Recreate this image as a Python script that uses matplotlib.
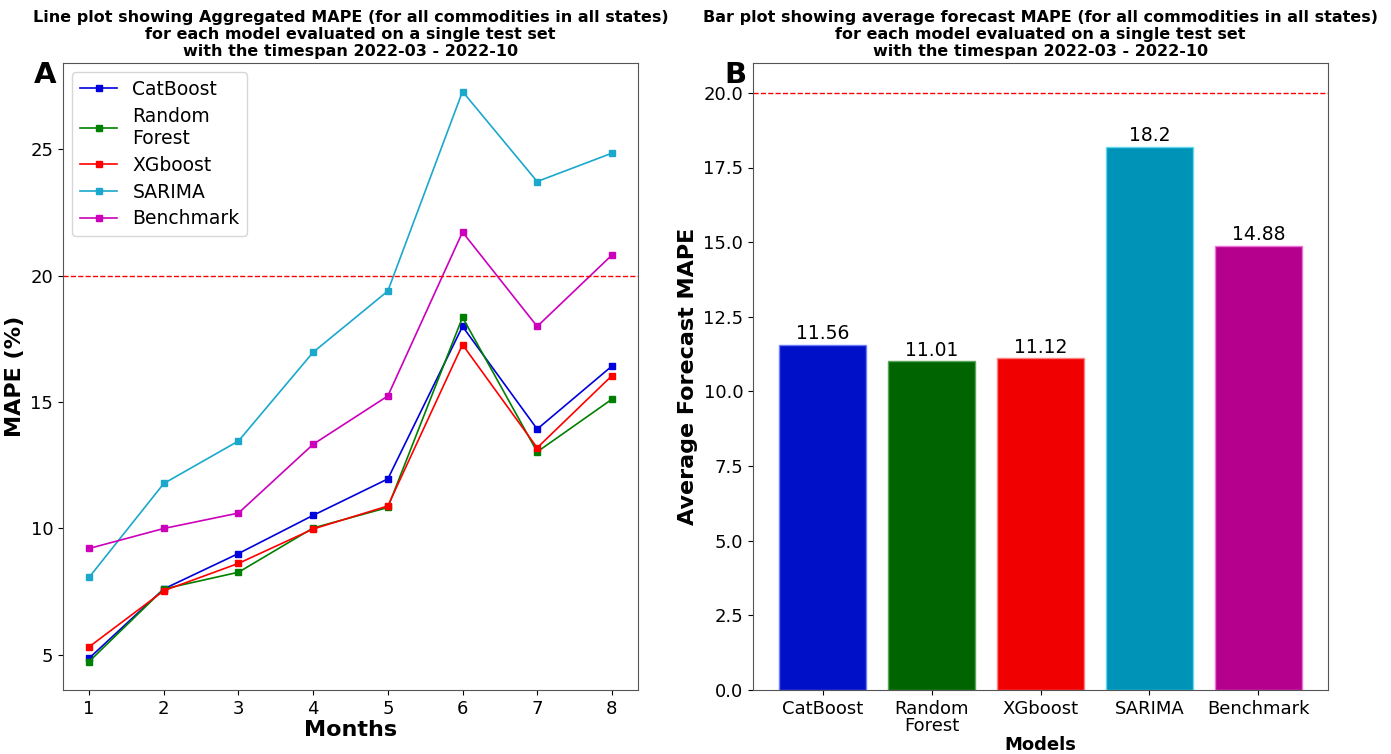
import matplotlib
matplotlib.use("Agg")
import matplotlib.pyplot as plt

months = [1, 2, 3, 4, 5, 6, 7, 8]
models = ["CatBoost", "Random\nForest", "XGboost", "SARIMA", "Benchmark"]

catboost = [4.87, 7.61, 9.01, 10.52, 11.96, 17.99, 13.93, 16.42]
random_forest = [4.74, 7.61, 8.27, 10.02, 10.83, 18.35, 13.03, 15.11]
xgboost = [5.32, 7.54, 8.62, 9.98, 10.89, 17.27, 13.19, 16.04]
sarima = [8.07, 11.78, 13.46, 16.97, 19.39, 27.28, 23.72, 24.84]
benchmark = [9.21, 10.00, 10.61, 13.33, 15.24, 21.72, 17.99, 20.81]

avg_mape = [11.56, 11.01, 11.12, 18.2, 14.88]
threshold = 20

line_colors = ["#0000dd", "#008000", "#ff0000", "#1aa8cc", "#cc00bb"]
bar_colors = ["#000fc8", "#006400", "#f00000", "#0093b8", "#b4008c"]
bar_edges = ["#6f7cff", "#5aa85a", "#ff8080", "#60d8f0", "#ee70dd"]

fig = plt.figure(figsize=(13.91, 7.54), dpi=100)
ax1 = fig.add_axes([63 / 1391, 64 / 754, 575 / 1391, 627 / 754])
ax2 = fig.add_axes([753 / 1391, 64 / 754, 575 / 1391, 627 / 754])

# panel A - line plot
series = [catboost, random_forest, xgboost, sarima, benchmark]
for vals, name, c in zip(series, models, line_colors):
    ax1.plot(months, vals, color=c, marker="s", markersize=4, linewidth=1.2, label=name)
ax1.axhline(threshold, color="red", linestyle="--", linewidth=1)
ax1.set_yticks([5, 10, 15, 20, 25])
ax1.set_xticks(months)
ax1.tick_params(labelsize=13)
ax1.set_xlabel("Months", fontsize=16, fontweight="bold", labelpad=2)
ax1.set_ylabel("MAPE (%)", fontsize=16, fontweight="bold")
ax1.legend(loc="upper left", fontsize=13.5, handlelength=2, labelspacing=0.42)
ax1.set_title("Line plot showing Aggregated MAPE (for all commodities in all states)\n"
              "for each model evaluated on a single test set\n"
              "with the timespan 2022-03 - 2022-10",
              fontsize=11.5, fontweight="bold", linespacing=1.15, pad=5)
ax1.text(-0.031, 0.981, "A", transform=ax1.transAxes, fontsize=21, fontweight="bold",
         ha="center", va="center")

# panel B - bar plot
xpos = range(len(models))
bars = ax2.bar(xpos, avg_mape, width=0.8, color=bar_colors, edgecolor=bar_edges, linewidth=1)
ax2.bar_label(bars, labels=[f"{v:g}" for v in avg_mape], fontsize=13.5, padding=1)
ax2.axhline(threshold, color="red", linestyle="--", linewidth=1)
ax2.set_xticks(list(xpos))
ax2.set_xticklabels(models, linespacing=0.95)
ax2.tick_params(labelsize=13)
ax2.set_xlabel("Models", fontsize=13, fontweight="bold", labelpad=1)
ax2.set_ylabel("Average Forecast MAPE", fontsize=16, fontweight="bold")
ax2.set_title("Bar plot showing average forecast MAPE (for all commodities in all states)\n"
              "for each model evaluated on a single test set\n"
              "with the timespan 2022-03 - 2022-10",
              fontsize=11.5, fontweight="bold", linespacing=1.15, pad=5)
ax2.text(-0.031, 0.981, "B", transform=ax2.transAxes, fontsize=21, fontweight="bold",
         ha="center", va="center")

for ax in (ax1, ax2):
    for s in ax.spines.values():
        s.set_color("#555555")

fig.savefig("out.png", dpi=100)
